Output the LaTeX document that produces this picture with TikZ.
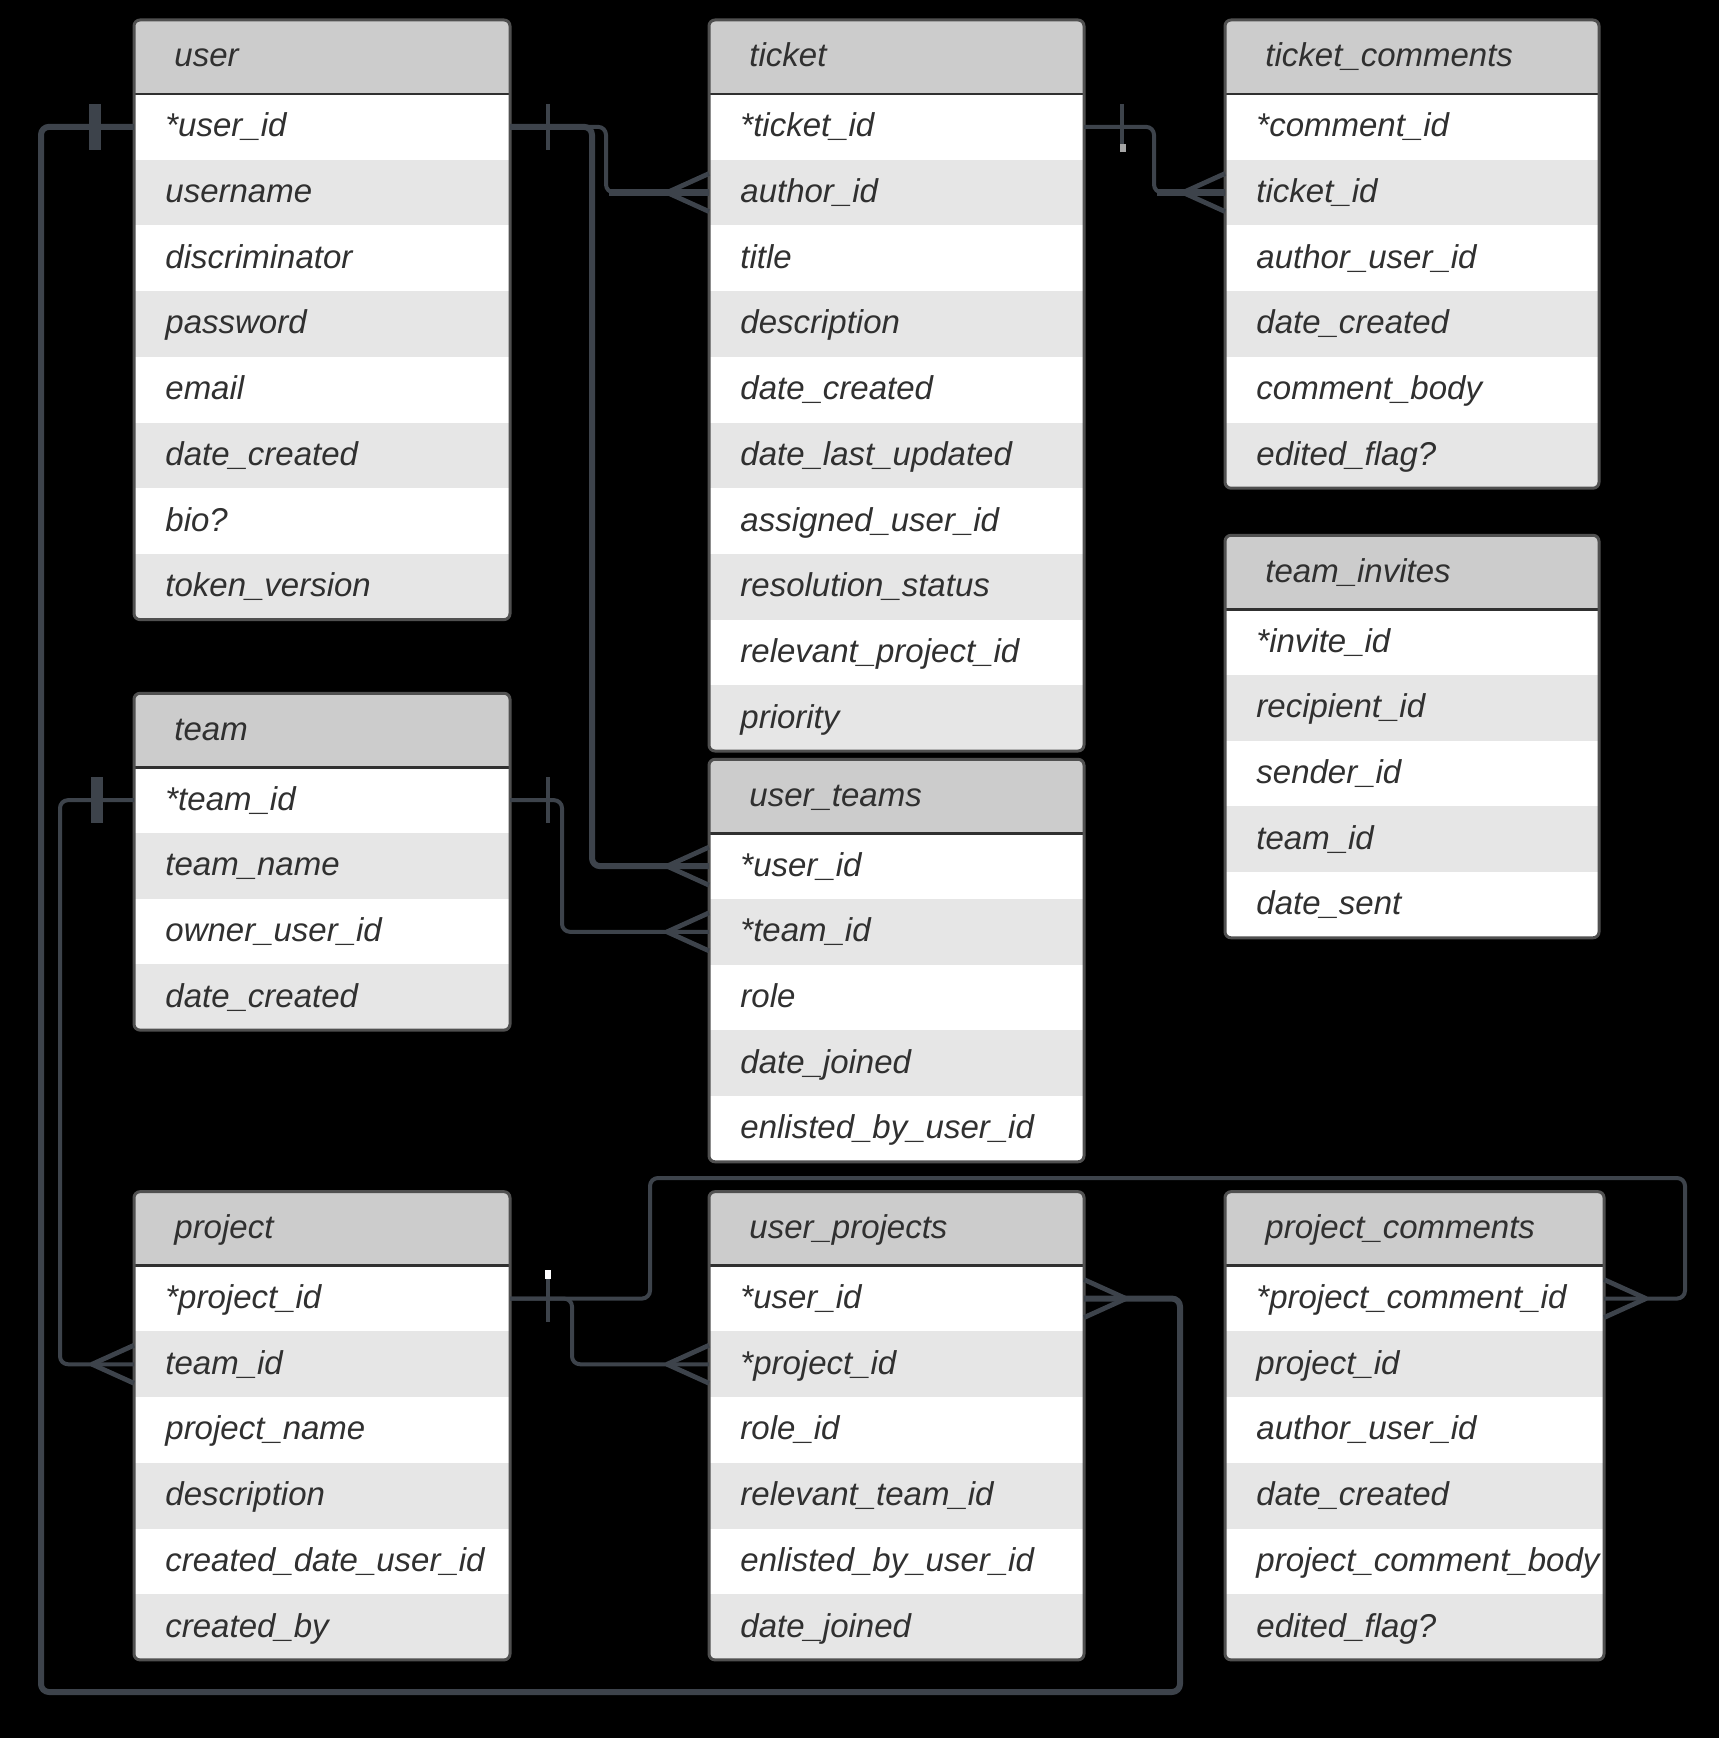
\documentclass[tikz,border=0pt]{standalone}
\usepackage{fontspec}
\setmainfont{Liberation Sans}
\usetikzlibrary{calc}
\definecolor{conncol}{HTML}{3D434B}
\definecolor{headgray}{HTML}{CCCCCC}
\definecolor{rowgray}{HTML}{E6E6E6}
\definecolor{txtcol}{HTML}{303030}
\definecolor{bordercol}{HTML}{505050}
\tikzset{
  headbox/.style={draw=none, fill=headgray, minimum height=37pt, inner sep=0pt, outer sep=0pt},
  rowbox/.style={draw=none, minimum height=32.85pt, inner sep=0pt, outer sep=0pt},
  celltext/.style={anchor=west, inner sep=0pt, text height=12pt, text depth=2pt,
    font=\fontsize{16.5}{19}\selectfont\itshape, text=txtcol},
  headline/.style={draw=txtcol, line width=1.4pt},
  tabborder/.style={draw=bordercol, line width=1.5pt, rounded corners=3pt},
  conn/.style={draw=conncol, line width=2pt, rounded corners=4pt, line join=round},
  connthick/.style={line width=3pt},
  crow/.style={draw=conncol, line width=2.4pt, line join=round},
}
\newcommand\erdtab[7]{%
  \pgfmathsetmacro\erdW{(#3-#2)*0.5}%
  \pgfmathsetmacro\erdB{#4+#5*65.7}%
  \begin{scope}
    \clip[rounded corners=3pt] (#2,#4-74) rectangle (#3,\erdB);
    \node[headbox, minimum width=\erdW pt, anchor=south west] (#1) at (#2,#4) {};
    \node[celltext] (#1-t) at ($(#1.west)+(40,0)$) {#6};
    \foreach \txt [count=\i] in {#7} {%
      \ifodd\i\def\erdfill{white}\else\def\erdfill{rowgray}\fi
      \node[rowbox, fill=\erdfill, minimum width=\erdW pt, anchor=north west] (#1-\i) at (#2,{#4+(\i-1)*65.7}) {};
      \node[celltext] (#1-\i-t) at ($(#1-\i.west)+(31,0)$) {\txt};
    }
  \end{scope}
  \draw[headline] (#2,#4) -- (#3,#4);
  \draw[tabborder] (#2,#4-74) rectangle (#3,\erdB);
}
\newcommand\onebar[3]{\draw[conn, line width=#3] ($(#1)+(#2,-23)$) -- ($(#1)+(#2,23)$);}
\newcommand\crowfoot[2]{\draw[crow] ($(#1)+(0,-19)$) -- ($(#1)+(#2*42,0)$) -- ($(#1)+(0,19)$);}
\begin{document}
\begin{tikzpicture}[x=0.5pt,y=-0.5pt]
\fill[black] (0,0) rectangle (1719,1738);
\useasboundingbox (0,0) rectangle (1719,1738);

% tables
\erdtab{user}{134}{510}{94}{8}{user}{*user\_id,username,discriminator,password,email,date\_created,bio?,token\_version}
\erdtab{ticket}{709}{1084}{94}{10}{ticket}{*ticket\_id,author\_id,title,description,date\_created,date\_last\_updated,assigned\_user\_id,resolution\_status,relevant\_project\_id,priority}
\erdtab{tcomm}{1225}{1599}{94}{6}{ticket\_comments}{*comment\_id,ticket\_id,author\_user\_id,date\_created,comment\_body,edited\_flag?}
\erdtab{tinv}{1225}{1599}{609.3}{5}{team\_invites}{*invite\_id,recipient\_id,sender\_id,team\_id,date\_sent}
\erdtab{team}{134}{510}{767.3}{4}{team}{*team\_id,team\_name,owner\_user\_id,date\_created}
\erdtab{uteams}{709}{1084}{833.3}{5}{user\_teams}{*user\_id,*team\_id,role,date\_joined,enlisted\_by\_user\_id}
\erdtab{project}{134}{510}{1265.7}{6}{project}{*project\_id,team\_id,project\_name,description,created\_date\_user\_id,created\_by}
\erdtab{uproj}{709}{1084}{1265.7}{6}{user\_projects}{*user\_id,*project\_id,role\_id,relevant\_team\_id,enlisted\_by\_user\_id,date\_joined}
\erdtab{pcomm}{1225}{1604}{1265.7}{6}{project\_comments}{*project\_comment\_id,project\_id,author\_user\_id,date\_created,project\_comment\_body,edited\_flag?}

% bend coordinates
\coordinate (c1a) at (41,1692);
\coordinate (c1b) at (1180,1692);
\coordinate (c7a) at (650,1178);
\coordinate (c7b) at (1685,1178);

% connectors
\draw[conn, connthick] (user-1.west) -| (c1a) -- (c1b) |- (uproj-1.east);
\draw[conn] (user-1.east) -| ($(ticket-2.west)+(-103,0)$) -- (ticket-2.west);
\draw[conn, line width=3.5pt] ($(ticket-2.west)+(-100,0)$) -- (ticket-2.west);
\draw[conn, connthick] (user-1.east) -| ($(uteams-1.west)+(-117,0)$) -- (uteams-1.west);
\draw[conn] (ticket-1.east) -| ($(tcomm-2.west)+(-71,0)$) -- (tcomm-2.west);
\draw[conn, line width=3.2pt] ($(tcomm-2.west)+(-68,0)$) -- (tcomm-2.west);
\draw[conn] (team-1.west) -| ($(project-2.west)+(-74,0)$) -- (project-2.west);
\draw[conn] (team-1.east) -| ($(uteams-2.west)+(-147,0)$) -- (uteams-2.west);
\draw[conn] (project-1.east) -| (c7a) -- (c7b) |- (pcomm-1.east);
\draw[conn] (project-1.east) -| ($(uproj-2.west)+(-137,0)$) -- (uproj-2.west);

% one markers
\onebar{user-1.west}{-39}{6pt}
\onebar{team-1.west}{-37}{6pt}
\onebar{user-1.east}{38}{2.2pt}
\onebar{ticket-1.east}{38}{2.2pt}
\onebar{team-1.east}{38}{2.2pt}
\onebar{project-1.east}{38}{2.2pt}

% many markers
\crowfoot{ticket-2.west}{-1}
\crowfoot{tcomm-2.west}{-1}
\crowfoot{uteams-1.west}{-1}
\crowfoot{uteams-2.west}{-1}
\crowfoot{project-2.west}{-1}
\crowfoot{uproj-2.west}{-1}
\crowfoot{uproj-1.east}{1}
\crowfoot{pcomm-1.east}{1}

% small light specks
\fill[white] (545,1270) rectangle (551,1279);
\fill[gray!70] (1120,144) rectangle (1126,152);
\end{tikzpicture}
\end{document}
